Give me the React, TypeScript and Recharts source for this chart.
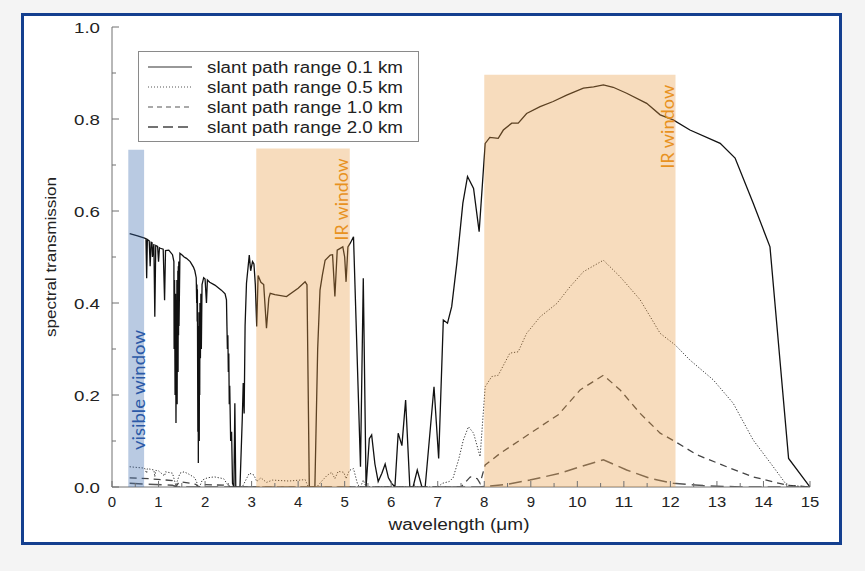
import React from 'react';
import { LineChart, Line, XAxis, YAxis, ReferenceArea } from 'recharts';

// ---- data: slant path range 0.1 km (solid)
const wl01 = [0.38, 0.55, 0.7, 0.73, 0.745, 0.76, 0.8, 0.82, 0.84, 0.86, 0.87, 0.9, 0.92, 0.94, 0.98, 1.0, 1.02, 1.04, 1.1, 1.13, 1.15, 1.22, 1.3, 1.33, 1.335, 1.345, 1.355, 1.365, 1.375, 1.385, 1.39, 1.395, 1.4, 1.405, 1.41, 1.415, 1.42, 1.425, 1.43, 1.435, 1.44, 1.46, 1.5, 1.55, 1.6, 1.68, 1.75, 1.78, 1.81, 1.82, 1.825, 1.83, 1.835, 1.845, 1.85, 1.855, 1.86, 1.865, 1.87, 1.875, 1.88, 1.885, 1.89, 1.9, 1.91, 1.92, 1.935, 1.97, 2.0, 2.03, 2.05, 2.1, 2.21, 2.35, 2.43, 2.46, 2.47, 2.48, 2.49, 2.5, 2.51, 2.52, 2.53, 2.55, 2.57, 2.59, 2.62, 2.64, 2.66, 2.75, 2.8, 2.82, 2.84, 2.86, 2.89, 2.95, 2.98, 3.02, 3.05, 3.08, 3.11, 3.14, 3.2, 3.26, 3.32, 3.37, 3.4, 3.5, 3.75, 4.0, 4.15, 4.19, 4.24, 4.36, 4.42, 4.47, 4.52, 4.58, 4.69, 4.74, 4.79, 4.84, 4.96, 5.0, 5.03, 5.07, 5.12, 5.19, 5.34, 5.4, 5.46, 5.53, 5.58, 5.65, 5.72, 5.8, 5.87, 5.94, 6.01, 6.08, 6.15, 6.23, 6.31, 6.4, 6.47, 6.56, 6.66, 6.73, 6.92, 7.02, 7.12, 7.21, 7.3, 7.41, 7.54, 7.64, 7.77, 7.89, 8.02, 8.12, 8.3, 8.41, 8.59, 8.73, 8.91, 9.2, 9.48, 9.77, 10.13, 10.35, 10.56, 10.77, 11.06, 11.49, 11.78, 12.06, 12.42, 13.07, 13.39, 13.78, 14.14, 14.54, 15.0];
const tr01 = [0.551, 0.546, 0.541, 0.54, 0.454, 0.538, 0.535, 0.48, 0.532, 0.531, 0.5, 0.528, 0.37, 0.525, 0.523, 0.49, 0.52, 0.519, 0.517, 0.406, 0.514, 0.515, 0.505, 0.49, 0.3, 0.45, 0.2, 0.42, 0.139, 0.38, 0.25, 0.45, 0.18, 0.42, 0.3, 0.47, 0.25, 0.48, 0.33, 0.49, 0.35, 0.508, 0.505, 0.5, 0.497, 0.49, 0.478, 0.47, 0.455, 0.4, 0.44, 0.36, 0.43, 0.12, 0.35, 0.052, 0.3, 0.15, 0.38, 0.1, 0.32, 0.2, 0.4, 0.28, 0.42, 0.3, 0.44, 0.455, 0.452, 0.4, 0.45, 0.445, 0.439, 0.428, 0.42, 0.407, 0.35, 0.3, 0.33, 0.25, 0.29, 0.18, 0.22, 0.1, 0.12, 0.008, 0.0, 0.182, 0.0, 0.0, 0.15, 0.226, 0.16, 0.35, 0.443, 0.504, 0.47, 0.49, 0.485, 0.44, 0.349, 0.46, 0.445, 0.44, 0.345, 0.41, 0.421, 0.418, 0.414, 0.432, 0.446, 0.44, 0.0, 0.0, 0.3, 0.428, 0.46, 0.493, 0.504, 0.505, 0.414, 0.515, 0.522, 0.5, 0.446, 0.522, 0.53, 0.544, 0.044, 0.454, 0.0, 0.105, 0.113, 0.05, 0.012, 0.03, 0.05, 0.02, 0.008, 0.0, 0.117, 0.09, 0.189, 0.0, 0.0, 0.037, 0.0, 0.0, 0.218, 0.062, 0.363, 0.356, 0.392, 0.486, 0.617, 0.675, 0.649, 0.555, 0.747, 0.76, 0.758, 0.776, 0.791, 0.791, 0.812, 0.827, 0.838, 0.852, 0.867, 0.87, 0.874, 0.869, 0.856, 0.834, 0.809, 0.798, 0.776, 0.747, 0.715, 0.617, 0.522, 0.062, 0.0];

// ---- slant path range 0.5 km (dotted)
const wl05 = [0.38, 0.7, 0.745, 0.76, 0.9, 0.92, 0.94, 1.0, 1.13, 1.15, 1.3, 1.36, 1.375, 1.4, 1.46, 1.55, 1.65, 1.78, 1.83, 1.855, 1.88, 1.94, 2.05, 2.2, 2.4, 2.48, 2.55, 2.8, 2.89, 2.95, 3.05, 3.11, 3.2, 3.32, 3.45, 3.8, 4.15, 4.22, 4.4, 4.5, 4.62, 4.72, 4.79, 4.86, 4.98, 5.03, 5.1, 5.19, 5.28, 5.34, 5.4, 5.46, 7.0, 7.1, 7.25, 7.33, 7.45, 7.55, 7.66, 7.77, 7.91, 8.02, 8.16, 8.3, 8.55, 8.73, 8.91, 9.2, 9.56, 9.84, 10.13, 10.56, 10.92, 11.35, 11.78, 12.1, 12.42, 12.92, 13.35, 13.78, 14.21, 14.5, 15.0];
const tr05 = [0.044, 0.041, 0.03, 0.04, 0.037, 0.022, 0.036, 0.035, 0.024, 0.033, 0.03, 0.008, 0.0, 0.012, 0.03, 0.033, 0.028, 0.02, 0.008, 0.0, 0.0, 0.015, 0.02, 0.022, 0.018, 0.006, 0.0, 0.0, 0.018, 0.03, 0.026, 0.012, 0.02, 0.01, 0.015, 0.013, 0.016, 0.0, 0.0, 0.012, 0.025, 0.032, 0.018, 0.034, 0.032, 0.018, 0.036, 0.04, 0.005, 0.0, 0.015, 0.0, 0.0, 0.008, 0.012, 0.02, 0.06, 0.102, 0.131, 0.117, 0.066, 0.218, 0.24, 0.243, 0.291, 0.294, 0.334, 0.37, 0.399, 0.435, 0.468, 0.493, 0.457, 0.407, 0.334, 0.309, 0.276, 0.233, 0.182, 0.102, 0.044, 0.004, 0.0];

// ---- slant path range 1.0 km (dashed)
const wl10 = [0.38, 0.8, 1.3, 1.37, 1.45, 1.8, 1.86, 2.0, 2.4, 2.55, 7.5, 7.7, 7.85, 7.91, 8.02, 8.34, 8.77, 9.2, 9.59, 10.06, 10.56, 10.92, 11.35, 11.78, 12.1, 12.57, 13.21, 13.78, 14.5, 15.0];
const tr10 = [0.02, 0.018, 0.014, 0.0, 0.012, 0.006, 0.0, 0.005, 0.004, 0.0, 0.0, 0.022, 0.018, 0.008, 0.048, 0.073, 0.102, 0.131, 0.157, 0.211, 0.243, 0.211, 0.16, 0.117, 0.099, 0.07, 0.044, 0.022, 0.004, 0.0];

// ---- slant path range 2.0 km (long dashed)
const wl20 = [0.38, 1.3, 1.37, 7.9, 8.5, 8.98, 9.63, 10.06, 10.56, 11.06, 11.56, 12.06, 12.7, 13.5, 15.0];
const tr20 = [0.008, 0.004, 0.0, 0.0, 0.006, 0.015, 0.03, 0.044, 0.059, 0.037, 0.019, 0.008, 0.003, 0.0, 0.0];

const seriesNames = ['slant path range 0.1 km', 'slant path range 0.5 km', 'slant path range 1.0 km', 'slant path range 2.0 km'];
const xTicks = [0, 0.5, 1, 1.5, 2, 2.5, 3, 3.5, 4, 4.5, 5, 5.5, 6, 6.5, 7, 7.5, 8, 8.5, 9, 9.5, 10, 10.5, 11, 11.5, 12, 12.5, 13, 13.5, 14, 14.5, 15];
const yTicks = [0, 0.1, 0.2, 0.3, 0.4, 0.5, 0.6, 0.7, 0.8, 0.9, 1.0];
const yTickLabels = ['0.0', '', '0.2', '', '0.4', '', '0.6', '', '0.8', '', '1.0'];

// windows: [x1, x2, top]
const visibleWindow = [0.35, 0.69, 0.733];
const irWindow1 = [3.1, 5.11, 0.736];
const irWindow2 = [8.0, 12.11, 0.896];

const pts = (w: number[], t: number[]) => w.map((x, i) => ({ x, y: t[i] }));
const d01 = pts(wl01, tr01);
const d05 = pts(wl05, tr05);
const d10 = pts(wl10, tr10);
const d20 = pts(wl20, tr20);

const FONT = '"Liberation Sans", Arial, Helvetica, sans-serif';
const LFONT = 'Lato, "Open Sans", sans-serif';
const AX = '#707070';
const TXT = '#222';

const BottomTick = (p: any) => {
  const { x, y, payload } = p;
  const v = payload.value;
  const major = Math.abs(v - Math.round(v)) < 1e-6;
  const label = major ? String(Math.round(v)) : '';
  const extra: any = label.length > 1 ? { textLength: 18.5, lengthAdjust: 'spacingAndGlyphs' } : {};
  return (
    <g>
      <line x1={x} y1={y} x2={x} y2={y - (major ? 6 : 4)} stroke={AX} strokeWidth={1} />
      {label && (
        <text x={x} y={y + 20} textAnchor="middle" fontSize={15} fill={TXT} fontFamily={FONT} {...extra}>{label}</text>
      )}
    </g>
  );
};

const TopTick = (p: any) => {
  const { x, y, payload } = p;
  const v = payload.value;
  const major = Math.abs(v - Math.round(v)) < 1e-6;
  return <line x1={x} y1={y} x2={x} y2={y + (major ? 6 : 4)} stroke={AX} strokeWidth={1} />;
};

const LeftTick = (p: any) => {
  const { x, y, index } = p;
  const label = yTickLabels[index];
  const major = label !== '';
  return (
    <g>
      <line x1={x} y1={y} x2={x + (major ? 7 : 4)} y2={y} stroke={AX} strokeWidth={1} />
      {major && (
        <text x={100} y={y + 6} textAnchor="end" fontSize={15} fill={TXT} fontFamily={FONT} textLength={26} lengthAdjust="spacingAndGlyphs">{label}</text>
      )}
    </g>
  );
};

const RightTick = (p: any) => {
  const { x, y, index } = p;
  const major = yTickLabels[index] !== '';
  return <line x1={x} y1={y} x2={x - (major ? 7 : 4)} y2={y} stroke={AX} strokeWidth={1} />;
};

const vertLabel = (text: string, color: string, len: number, pos: (vb: any) => [number, number]) => (props: any) => {
  const vb = props.viewBox || {};
  const [bx, cy] = pos(vb);
  return (
    <text x={bx} y={cy} transform={`rotate(-90 ${bx} ${cy})`} textAnchor="middle" fontSize={18} fill={color} fontFamily={LFONT} textLength={len} lengthAdjust="spacingAndGlyphs">{text}</text>
  );
};

const visLabel = vertLabel('visible window', '#2b59a7', 120, (vb) => [vb.x + vb.width + 0.5, vb.y + vb.height - 97]);
const ir1Label = vertLabel('IR window', '#e8921f', 82, (vb) => [vb.x + vb.width - 2, vb.y + 51]);
const ir2Label = vertLabel('IR window', '#e8921f', 84, (vb) => [vb.x + vb.width - 1.5, vb.y + 52]);

const legendStyles = [
  { dash: undefined, w: 1.2, c: '#333' },
  { dash: '1 2', w: 1, c: '#555' },
  { dash: '5 4', w: 1.2, c: '#555' },
  { dash: '10 5', w: 1.4, c: '#444' },
];

export default function App() {
  const bandProps: any = { stroke: 'none', fillOpacity: 0.35, zIndex: 700, ifOverflow: 'visible' };
  return (
    <div style={{ position: 'absolute', left: 0, top: 0, width: 865, height: 571, background: '#f4f4f4', overflow: 'hidden' }}>
      <div style={{ position: 'absolute', left: 21, top: 13, width: 821, height: 532, boxSizing: 'border-box', border: '3px solid #143f8f', background: '#fff' }} />
      <div style={{ position: 'absolute', left: 0, top: 0 }}>
        <LineChart width={865} height={571} margin={{ top: 27, right: 55, bottom: 44, left: 52 }}>
          <XAxis xAxisId={0} dataKey="x" type="number" domain={[0, 15]} ticks={xTicks} interval={0} allowDataOverflow
            height={40} tickSize={0} tickMargin={0} tickLine={false} axisLine={{ stroke: AX }} tick={BottomTick} />
          <XAxis xAxisId="top" orientation="top" dataKey="x" type="number" domain={[0, 15]} ticks={xTicks} interval={0} allowDataOverflow
            height={0} tickSize={0} tickMargin={0} tickLine={false} axisLine={{ stroke: AX }} tick={TopTick} />
          <YAxis yAxisId={0} type="number" domain={[0, 1]} ticks={yTicks} interval={0} allowDataOverflow
            width={60} tickSize={0} tickMargin={0} tickLine={false} axisLine={{ stroke: AX }} tick={LeftTick} />
          <YAxis yAxisId="right" orientation="right" type="number" domain={[0, 1]} ticks={yTicks} interval={0} allowDataOverflow
            width={0} tickSize={0} tickMargin={0} tickLine={false} axisLine={{ stroke: AX }} tick={RightTick} />
          <Line data={d20} dataKey="y" type="linear" stroke="#555" strokeWidth={1.5} strokeDasharray="13 6" dot={false} isAnimationActive={false} />
          <Line data={d10} dataKey="y" type="linear" stroke="#444" strokeWidth={1.3} strokeDasharray="7 5" dot={false} isAnimationActive={false} />
          <Line data={d05} dataKey="y" type="linear" stroke="#333" strokeWidth={1} strokeDasharray="1.2 1.8" dot={false} isAnimationActive={false} />
          <Line data={d01} dataKey="y" type="linear" stroke="#111" strokeWidth={1.3} dot={false} isAnimationActive={false} />
          <ReferenceArea {...bandProps} x1={visibleWindow[0]} x2={visibleWindow[1]} y1={0} y2={visibleWindow[2]} fill="#3768ac" label={visLabel} />
          <ReferenceArea {...bandProps} x1={irWindow1[0]} x2={irWindow1[1]} y1={0} y2={irWindow1[2]} fill="#e89b42" label={ir1Label} />
          <ReferenceArea {...bandProps} x1={irWindow2[0]} x2={irWindow2[1]} y1={0} y2={irWindow2[2]} fill="#e89b42" label={ir2Label} />
        </LineChart>
      </div>
      <svg width={865} height={571} style={{ position: 'absolute', left: 0, top: 0, pointerEvents: 'none' }}>
        <rect x={138.5} y={51.5} width={280} height={90} fill="#fff" stroke="#8a8a8a" strokeWidth={1} />
        {seriesNames.map((name, i) => {
          const cy = 67 + i * 20;
          const s = legendStyles[i];
          return (
            <g key={name}>
              <line x1={148} y1={cy} x2={192} y2={cy} stroke={s.c} strokeWidth={s.w} strokeDasharray={s.dash} />
              <text x={207} y={cy + 5.7} fontSize={16} fill={TXT} fontFamily={FONT} textLength={196} lengthAdjust="spacingAndGlyphs">{name}</text>
            </g>
          );
        })}
        <text x={459} y={530} textAnchor="middle" fontSize={16} fill={TXT} fontFamily={FONT} textLength={141} lengthAdjust="spacingAndGlyphs">wavelength (μm)</text>
        <text x={56} y={257} transform="rotate(-90 56 257)" textAnchor="middle" fontSize={15} fill={TXT} fontFamily={FONT} textLength={160} lengthAdjust="spacingAndGlyphs">spectral  transmission</text>
      </svg>
    </div>
  );
}
